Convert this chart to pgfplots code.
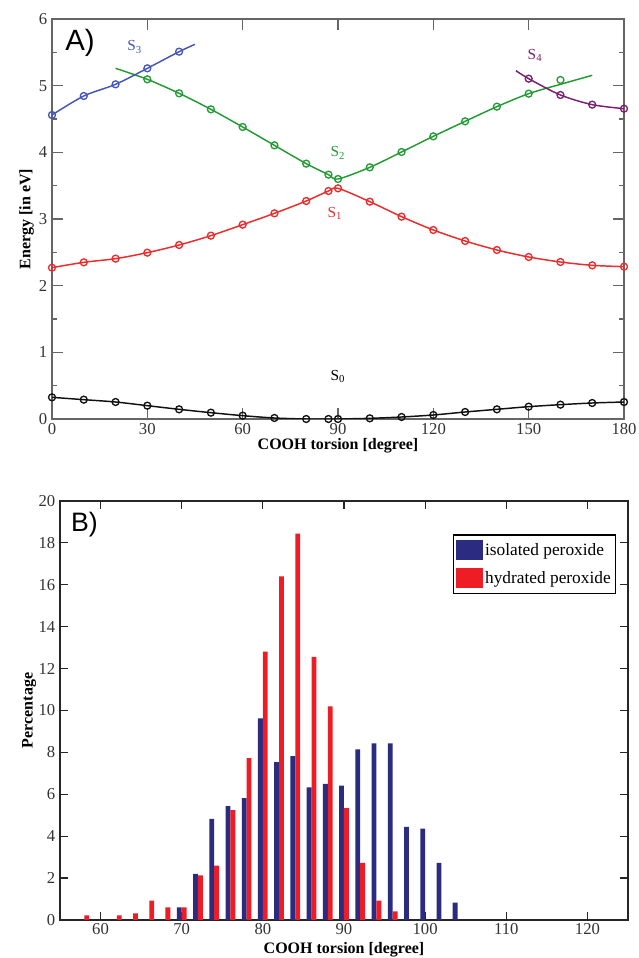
\documentclass[border=0pt]{standalone}
\usepackage{fontspec}
\setmainfont{Liberation Serif}
\newfontfamily\sansf{Liberation Sans}
\usepackage{pgfplots}
\pgfplotsset{compat=1.18}
\definecolor{cS0}{HTML}{111111}
\definecolor{cS1}{HTML}{EE2A2A}
\definecolor{cS2}{HTML}{239B35}
\definecolor{cS3}{HTML}{4455BB}
\definecolor{cS4}{HTML}{7B1F6E}
\definecolor{iso}{HTML}{2B2B82}
\definecolor{hyd}{HTML}{EE1C24}
\definecolor{axg}{HTML}{666666}
\begin{document}
\begin{tikzpicture}
\path[use as bounding box] (0pt,0pt) rectangle (479.25pt,718.5pt);
% ---------------- Panel A ----------------
\begin{axis}[
  at={(39pt,404.25pt)}, anchor=south west, scale only axis,
  width=429pt, height=300pt,
  xmin=0, xmax=180, ymin=0, ymax=6,
  xtick={0,30,...,180}, ytick={0,1,...,6},
  minor y tick num=1,
  major tick length=8pt, minor tick length=4pt,
  tick style={color=axg, line width=0.8pt},
  axis line style={color=axg, line width=1pt},
  /pgf/number format/assume math mode=true,
  tick label style={font=\fontsize{12.5}{14}\selectfont, color=black!80},
  xlabel={\bfseries COOH torsion [degree]},
  ylabel={\bfseries Energy [in eV]},
  label style={font=\fontsize{12}{14}\selectfont},
  xlabel style={yshift=4pt},
  ylabel style={yshift=-3pt},
  every axis plot/.append style={line width=1.1pt},
  mark size=2.6pt,
]
% S0
\addplot[color=cS0, smooth, mark=o, mark options={line width=1pt}] coordinates {
(0,0.325) (10,0.29) (20,0.255) (30,0.20) (40,0.145) (50,0.095) (60,0.05) (70,0.015) (80,0.0) (87,0.0) (90,0.0)
(100,0.01) (110,0.03) (120,0.06) (130,0.105) (140,0.145) (150,0.185) (160,0.215) (170,0.24) (180,0.255)};
% S1
\addplot[color=cS1, smooth, mark=o, mark options={line width=1pt}] coordinates {
(0,2.27) (10,2.35) (20,2.405) (30,2.495) (40,2.61) (50,2.75) (60,2.915) (70,3.085) (80,3.27) (87,3.42) (90,3.46)
(100,3.26) (110,3.035) (120,2.835) (130,2.67) (140,2.535) (150,2.43) (160,2.355) (170,2.305) (180,2.285)};
% S2 line
\addplot[color=cS2, smooth, no marks] coordinates {
(20,5.26) (30,5.095) (40,4.885) (50,4.645) (60,4.38) (70,4.105) (80,3.83) (87,3.665) (90,3.6)
(100,3.775) (110,4.005) (120,4.24) (130,4.465) (140,4.685) (150,4.88) (160,5.02) (170,5.155)};
% S2 marks
\addplot[color=cS2, only marks, mark=o, mark options={line width=1pt}] coordinates {
(30,5.095) (40,4.885) (50,4.645) (60,4.38) (70,4.105) (80,3.83) (87,3.665) (90,3.6)
(100,3.775) (110,4.005) (120,4.24) (130,4.465) (140,4.685) (150,4.88) (160,5.085)};
% S3 line
\addplot[color=cS3, smooth, no marks] coordinates {
(0,4.56) (10,4.845) (20,5.02) (30,5.26) (40,5.51) (45,5.62)};
\addplot[color=cS3, only marks, mark=o, mark options={line width=1pt}] coordinates {
(0,4.56) (10,4.845) (20,5.02) (30,5.26) (40,5.51)};
% S4 line
\addplot[color=cS4, smooth, no marks] coordinates {
(146,5.225) (150,5.105) (160,4.86) (170,4.715) (180,4.655)};
\addplot[color=cS4, only marks, mark=o, mark options={line width=1pt}] coordinates {
(150,5.105) (160,4.86) (170,4.715) (180,4.655)};
% labels
\node[text=cS3, font=\fontsize{11.5}{13}\selectfont] at (axis cs:26,5.58) {S\textsubscript{3}};
\node[text=cS2, font=\fontsize{11.5}{13}\selectfont] at (axis cs:90,3.99) {S\textsubscript{2}};
\node[text=cS1, font=\fontsize{11.5}{13}\selectfont] at (axis cs:89,3.08) {S\textsubscript{1}};
\node[text=black, font=\fontsize{11.5}{13}\selectfont] at (axis cs:90,0.64) {S\textsubscript{0}};
\node[text=cS4, font=\fontsize{11.5}{13}\selectfont] at (axis cs:152,5.45) {S\textsubscript{4}};
\node[anchor=north west, inner sep=0pt, font=\sansf\fontsize{22}{24}\selectfont] at (rel axis cs:0.023,0.975) {A)};
\end{axis}
% ---------------- Panel B ----------------
\begin{axis}[
  at={(45pt,28.5pt)}, anchor=south west, scale only axis,
  width=426pt, height=314.25pt,
  xmin=55, xmax=125, ymin=0, ymax=20,
  xtick={60,70,...,120}, ytick={0,2,...,20},
  major tick length=6pt,
  tick style={color=black!85, line width=0.9pt},
  axis line style={color=black!85, line width=1.2pt},
  /pgf/number format/assume math mode=true,
  tick label style={font=\fontsize{12.5}{14}\selectfont, color=black!80},
  xticklabel style={yshift=1pt},
  xlabel={\bfseries COOH torsion [degree]},
  ylabel={\bfseries Percentage},
  label style={font=\fontsize{12}{14}\selectfont},
  xlabel style={at={(axis description cs:0.5,0)}, anchor=center, yshift=-22.5pt},
  ylabel style={yshift=-5pt},
  legend style={at={(rel axis cs:0.979,0.9205)}, anchor=north east, draw=black, line width=1pt,
    font=\fontsize{13}{15}\selectfont, inner xsep=2pt, inner ysep=4pt, row sep=6pt,
    nodes={inner sep=1.5pt}},
  legend cell align=left,
]
\addplot[ybar, bar width=0.6, bar shift=-0.3, fill=iso, draw=none,
  legend image code/.code={\fill[iso] (0pt,-7.5pt) rectangle (20pt,7.5pt);}] coordinates {
(70,0.6) (72,2.2) (74,4.83) (76,5.44) (78,5.82) (80,9.63) (82,7.53) (84,7.82) (86,6.33) (88,6.5)
(90,6.42) (92,8.14) (94,8.43) (96,8.43) (98,4.45) (100,4.36) (102,2.73) (104,0.83)};
\addlegendentry{isolated peroxide}
\addplot[ybar, bar width=0.6, bar shift=0.3, fill=hyd, draw=none,
  legend image code/.code={\fill[hyd] (0pt,-7.5pt) rectangle (20pt,7.5pt);}] coordinates {
(58,0.22) (62,0.22) (64,0.32) (66,0.92) (68,0.6) (70,0.6) (72,2.13) (74,2.6) (76,5.25) (78,7.73)
(80,12.81) (82,16.4) (84,18.44) (86,12.56) (88,10.2) (90,5.34) (92,2.73) (94,0.92) (96,0.41)};
\addlegendentry{hydrated peroxide}
\node[anchor=north west, inner sep=0pt, font=\sansf\fontsize{20}{22}\selectfont] at (rel axis cs:0.019,0.975) {B)};
\end{axis}
\end{tikzpicture}
\end{document}
